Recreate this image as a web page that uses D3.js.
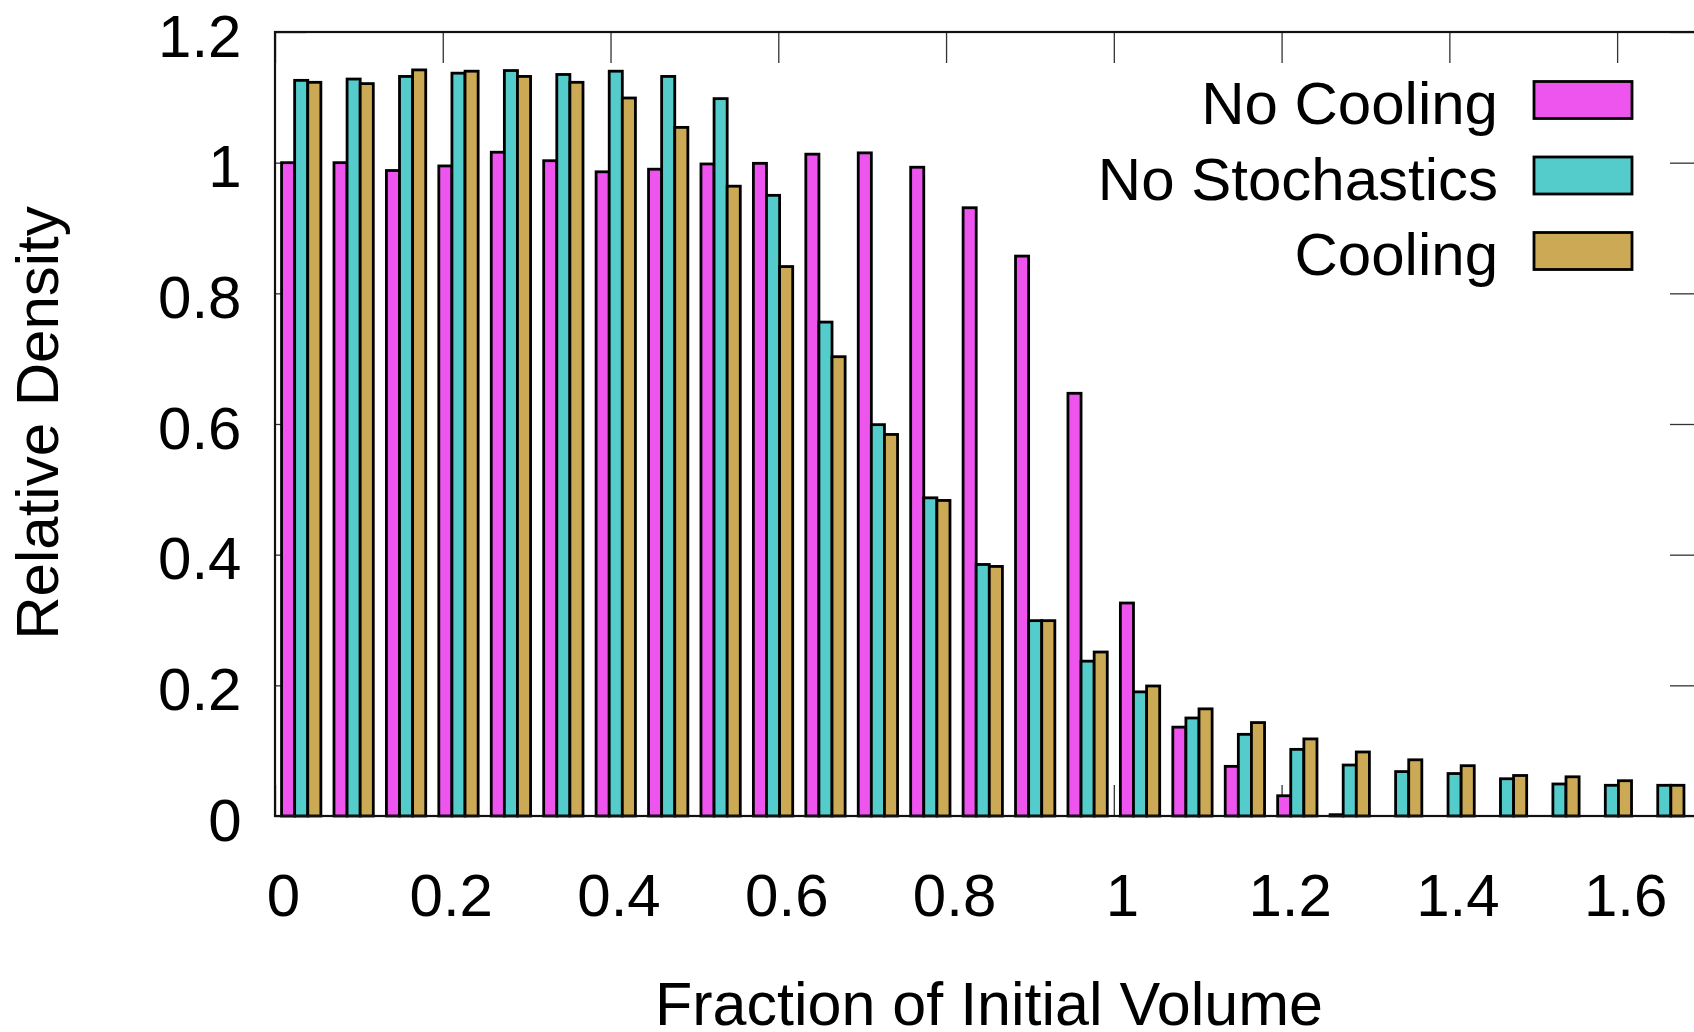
<!DOCTYPE html>
<html>
<head>
<meta charset="utf-8">
<script src="https://cdn.jsdelivr.net/npm/d3@7"></script>
<style>
  body { margin: 0; background: #fff; }
  text { font-family: "Liberation Sans", Arial, sans-serif; fill: #000; }
</style>
</head>
<body>
<div id="container"></div>
<script>
// lower edge of each volume bin (bin width 1/16)
var binStart = [0, 0.0625, 0.125, 0.1875, 0.25, 0.3125, 0.375, 0.4375, 0.5, 0.5625,
  0.625, 0.6875, 0.75, 0.8125, 0.875, 0.9375, 1, 1.0625, 1.125, 1.1875,
  1.25, 1.3125, 1.375, 1.4375, 1.5, 1.5625, 1.625];
var binWidth = 0.0625;

var seriesNames = ["No Cooling", "No Stochastics", "Cooling"];
var seriesColors = ["#ee55ee", "#55cccc", "#ccaa55"];

var noCooling = [1.000, 1.000, 0.988, 0.995, 1.016, 1.003, 0.986, 0.990, 0.998, 0.999,
  1.013, 1.015, 0.993, 0.931, 0.857, 0.647, 0.326, 0.136, 0.076, 0.031,
  0.002, 0, 0, 0, 0, 0, 0];
var noStochastics = [1.126, 1.128, 1.132, 1.137, 1.141, 1.135, 1.140, 1.132, 1.098, 0.950,
  0.756, 0.599, 0.487, 0.385, 0.299, 0.237, 0.190, 0.150, 0.125, 0.102,
  0.078, 0.068, 0.065, 0.057, 0.049, 0.047, 0.047];
var cooling = [1.123, 1.121, 1.142, 1.140, 1.132, 1.123, 1.099, 1.054, 0.964, 0.841,
  0.703, 0.584, 0.483, 0.382, 0.299, 0.251, 0.199, 0.164, 0.143, 0.118,
  0.098, 0.086, 0.077, 0.062, 0.060, 0.054, 0.047];

var xTicks = [0, 0.2, 0.4, 0.6, 0.8, 1, 1.2, 1.4, 1.6];
var yTicks = [0, 0.2, 0.4, 0.6, 0.8, 1, 1.2];

var W = 1694, H = 1032;
var pLeft = 275, pRight = 1701, pTop = 32, pBottom = 816;
var tickLen = 31;
var fontSize = 60;

var svg = d3.select('#container').append('svg')
  .attr('width', W).attr('height', H);

var x = d3.scaleLinear().domain([0, 1.7]).range([pLeft, pRight]);
var y = d3.scaleLinear().domain([0, 1.2]).range([pBottom, pTop]);
var inner = d3.scaleBand().domain(seriesNames)
  .range([0, x(binWidth) - x(0)])
  .paddingInner(0).paddingOuter(0.5);

var fmt = d3.format('~g');

// ticks on all four sides, drawn behind the bars
function styleAxis(g) {
  g.select('.domain').remove();
  g.selectAll('.tick line').attr('stroke', '#333').attr('stroke-width', 1.3);
}

var xAxis = svg.append('g')
  .attr('transform', 'translate(0,' + pBottom + ')')
  .call(d3.axisBottom(x).tickValues(xTicks).tickSize(-tickLen).tickFormat(fmt))
  .call(styleAxis);
xAxis.selectAll('text')
  .attr('y', 100).attr('dy', null).attr('dx', 8)
  .style('font-size', fontSize + 'px').style('font-family', null);

svg.append('g')
  .attr('transform', 'translate(0,' + pTop + ')')
  .call(d3.axisTop(x).tickValues(xTicks).tickSize(-tickLen).tickFormat(''))
  .call(styleAxis);

var yAxis = svg.append('g')
  .attr('transform', 'translate(' + pLeft + ',0)')
  .call(d3.axisLeft(y).tickValues(yTicks).tickSize(-tickLen).tickFormat(fmt))
  .call(styleAxis);
yAxis.selectAll('text')
  .attr('x', 241.5 - pLeft).attr('dy', 24)
  .attr('text-anchor', 'end')
  .style('font-size', fontSize + 'px').style('font-family', null);

svg.append('g')
  .attr('transform', 'translate(' + pRight + ',0)')
  .call(d3.axisRight(y).tickValues(yTicks).tickSize(-tickLen).tickFormat(''))
  .call(styleAxis);

// bars
var series = [noCooling, noStochastics, cooling];
var groups = svg.selectAll('g.bin')
  .data(binStart)
  .enter().append('g')
  .classed('bin', true)
  .attr('transform', function(d) { return 'translate(' + x(d) + ',0)'; });

groups.selectAll('rect')
  .data(function(d, i) {
    return seriesNames.map(function(name, s) {
      return { name: name, color: seriesColors[s], v: series[s][i] };
    });
  })
  .enter().append('rect')
  .attr('x', function(d) { return inner(d.name); })
  .attr('width', inner.bandwidth())
  .attr('y', function(d) { return y(d.v); })
  .attr('height', function(d) { return y(0) - y(d.v); })
  .attr('fill', function(d) { return d.color; })
  .attr('stroke', '#000')
  .attr('stroke-width', 2.8);

// frame
svg.append('rect')
  .attr('x', pLeft).attr('y', pTop)
  .attr('width', pRight - pLeft).attr('height', pBottom - pTop)
  .attr('fill', 'none').attr('stroke', '#111').attr('stroke-width', 2.2);

// legend
var legend = svg.append('g');
var rowY = [100, 175.5, 251];
seriesNames.forEach(function(name, s) {
  legend.append('text')
    .attr('x', 1498).attr('y', rowY[s] + 24)
    .attr('text-anchor', 'end')
    .style('font-size', fontSize + 'px')
    .text(name);
  legend.append('rect')
    .attr('x', 1534).attr('y', rowY[s] - 18.5)
    .attr('width', 98).attr('height', 37)
    .attr('fill', seriesColors[s])
    .attr('stroke', '#000').attr('stroke-width', 2.8);
});

// axis titles
svg.append('text')
  .attr('x', 989).attr('y', 1025)
  .attr('text-anchor', 'middle')
  .style('font-size', '61px')
  .text('Fraction of Initial Volume');

svg.append('text')
  .attr('transform', 'translate(58,' + 423 + ') rotate(-90)')
  .attr('text-anchor', 'middle')
  .style('font-size', fontSize + 'px')
  .text('Relative Density');
</script>
</body>
</html>
